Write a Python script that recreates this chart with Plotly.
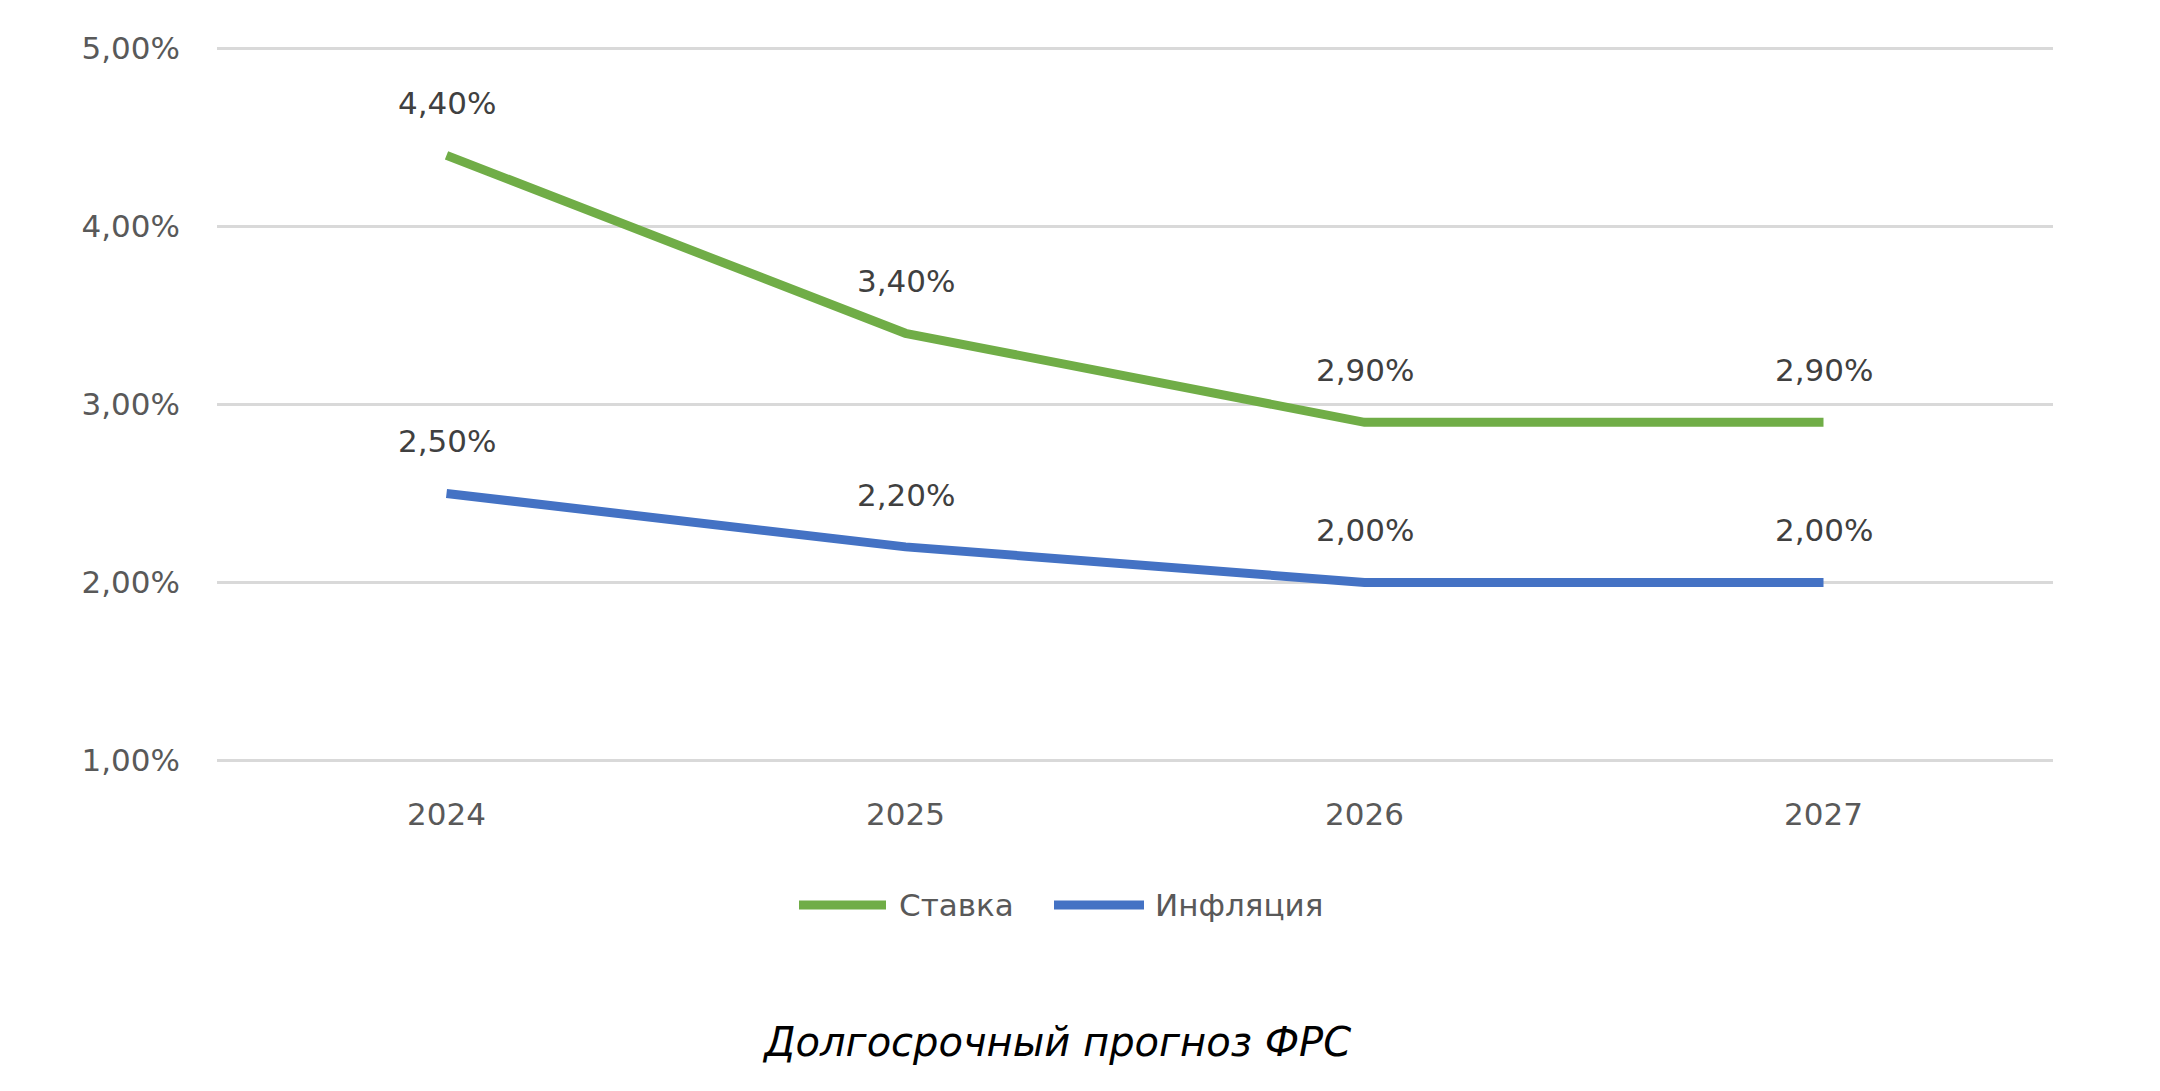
import plotly.graph_objects as go

# Долгосрочный прогноз ФРС
years = ['2024', '2025', '2026', '2027']
rate = [4.40, 3.40, 2.90, 2.90]
inflation = [2.50, 2.20, 2.00, 2.00]
names = ['Ставка', 'Инфляция']
y_ticks = [1, 2, 3, 4, 5]

GREEN = '#70AD47'
BLUE = '#4472C4'
FONT = 'DejaVu Sans'
W, H = 2160, 1091
L, R, T, B = 209, 115, 37, 335


def fmt(v):
    return f'{v:.2f}'.replace('.', ',') + '%'


fig = go.Figure()
for name, series, color in zip(names, (rate, inflation), (GREEN, BLUE)):
    fig.add_trace(go.Scatter(x=years, y=series, name=name, mode='lines',
                             line=dict(color=color, width=9), showlegend=False))
    # data labels above each point
    for i, v in enumerate(series):
        fig.add_annotation(x=i, y=v, text=fmt(v), showarrow=False, yshift=52,
                           font=dict(family=FONT, size=31, color='#404040'))


# hand-drawn legend (long line samples like the original)
def px_x(x):
    return (x - L) / (W - L - R)


def px_y(y):
    return (H - B - y) / (H - B - T)


leg_y = px_y(897)
for x0, x1, tx, name, color in ((791, 878, 889, names[0], GREEN),
                                 (1046, 1136, 1145, names[1], BLUE)):
    fig.add_shape(type='line', xref='paper', yref='paper',
                  x0=px_x(x0), x1=px_x(x1), y0=leg_y, y1=leg_y,
                  line=dict(color=color, width=9))
    fig.add_annotation(xref='paper', yref='paper', x=px_x(tx), y=leg_y,
                       xanchor='left', yanchor='middle', text=name,
                       showarrow=False,
                       font=dict(family=FONT, size=31, color='#595959'))

fig.update_layout(
    width=W, height=H,
    paper_bgcolor='white', plot_bgcolor='white',
    margin=dict(l=L, r=R, t=T, b=B),
    font=dict(family=FONT, size=31, color='#595959'),
    title=dict(text='<i>Долгосрочный прогноз ФРС</i>', x=0.486, xanchor='center',
               y=0.052, yanchor='middle', yref='container',
               font=dict(family=FONT, size=40, color='#000000')),
    showlegend=False,
)
fig.update_xaxes(type='category', range=[-0.5, 3.5], showgrid=False,
                 showline=False, zeroline=False, ticks='', ticklabelstandoff=29)
fig.update_yaxes(range=[0.98, 5.02], tickvals=y_ticks,
                 ticktext=[fmt(v) for v in y_ticks],
                 showgrid=True, gridcolor='#D9D9D9', gridwidth=3,
                 zeroline=False, showline=False, ticklabelstandoff=36)

fig.write_html('out.html')
